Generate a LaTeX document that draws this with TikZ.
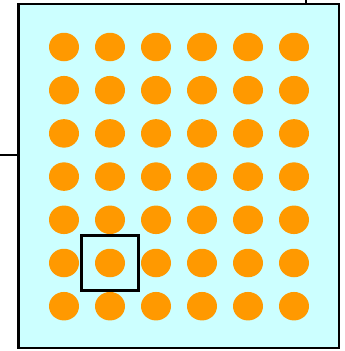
\documentclass[tikz,border=0pt]{standalone}
\usepackage{tikz}
\usetikzlibrary{positioning, shapes.geometric}
\definecolor{boardfill}{HTML}{CCFFFF}
\definecolor{padorange}{HTML}{FF9900}
\tikzset{
    board/.style={
        rectangle, draw=black, fill=boardfill,
        line width=2.8pt, inner sep=0pt,
        minimum width=320.5pt, minimum height=344pt
    },
    pad/.style={
        ellipse, fill=padorange, inner sep=0pt,
        minimum width=30pt, minimum height=28.5pt
    },
    marker/.style={
        rectangle, draw=black, line width=2.4pt, inner sep=0pt,
        minimum width=57pt, minimum height=55pt
    },
    lead/.style={
        line width=2pt, color=black
    },
}

\begin{document}
\begin{tikzpicture}[x=1pt, y=-1pt]
    \useasboundingbox (0,0) rectangle (345,351);

    % Board outline
    \node[board] (pcb) at (178.75,176) {};

    % Leads
    \coordinate (leadleft) at (0,154.5);
    \coordinate (leadtop) at (306,0);
    \draw[lead] (leadleft) -- (leadleft -| pcb.west);
    \draw[lead] (leadtop) -- (leadtop |- pcb.north);

    % Pad grid
    \foreach \col in {1,...,6} {
        \foreach \row in {1,...,7} {
            \node[pad] (pad-\col-\row) at ({64+46*(\col-1)},{47+43.2*(\row-1)}) {};
        }
    }

    % Selected pad
    \node[marker] (sel) at (pad-2-6) {};
\end{tikzpicture}
\end{document}
